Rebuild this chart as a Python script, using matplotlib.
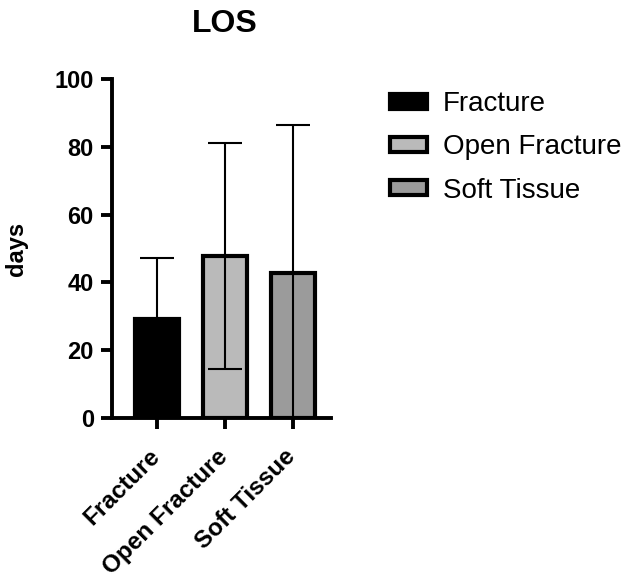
import matplotlib.pyplot as plt
from matplotlib.transforms import blended_transform_factory, offset_copy

plt.rcParams['font.family'] = ['Liberation Sans', 'DejaVu Sans']

categories = ['Fracture', 'Open Fracture', 'Soft Tissue']
means = [29.2, 47.8, 42.8]
sds = [18.0, 33.2, 43.5]
colors = ['#000000', '#bababa', '#9b9b9b']

fig = plt.figure(figsize=(6.25, 5.8), dpi=100)
ax = fig.add_axes([0.179, 0.279, 0.35, 0.585])

x = list(range(len(categories)))
bars = ax.bar(x, means, width=0.65, color=colors, edgecolor='black',
              linewidth=3.0, zorder=2)
for bar, lab in zip(bars, categories):
    bar.set_label(lab)

ax.errorbar(x, means, yerr=sds, fmt='none', ecolor='black', elinewidth=1.5,
            capsize=12, capthick=1.5, zorder=3)

ax.set_xlim(-0.67, 2.56)
ax.set_ylim(0, 100)
ax.set_yticks([0, 20, 40, 60, 80, 100])
ax.set_xticks(x)
ax.set_xticklabels([])
for lab in ax.get_yticklabels():
    lab.set_fontsize(17)
    lab.set_fontweight('bold')

# rotated category labels, placed a bit lower than the default
trans = offset_copy(blended_transform_factory(ax.transData, ax.transAxes),
                    fig=fig, x=-1, y=-35, units='dots')
for xi, lab in zip(x, categories):
    ax.text(xi, 0, lab, transform=trans, rotation=45, ha='right', va='center',
            rotation_mode='anchor', fontsize=17.5, fontweight='bold')

for s in ['top', 'right']:
    ax.spines[s].set_visible(False)
for s in ['left', 'bottom']:
    ax.spines[s].set_linewidth(2.8)
ax.tick_params(axis='both', width=2.8, length=8, pad=4)
ax.tick_params(axis='y', pad=5)

ax.set_ylabel('days', fontsize=17, fontweight='bold', labelpad=19)
ax.set_title('LOS', fontsize=23, fontweight='bold', pad=34, x=0.515)

fig.legend(handles=list(bars), loc='upper left', bbox_to_anchor=(0.624, 0.843),
           frameon=False, fontsize=20, handlelength=1.33, handleheight=0.45,
           labelspacing=0.62, handletextpad=0.58, borderpad=0, borderaxespad=0)

fig.savefig('out.png', dpi=100)
